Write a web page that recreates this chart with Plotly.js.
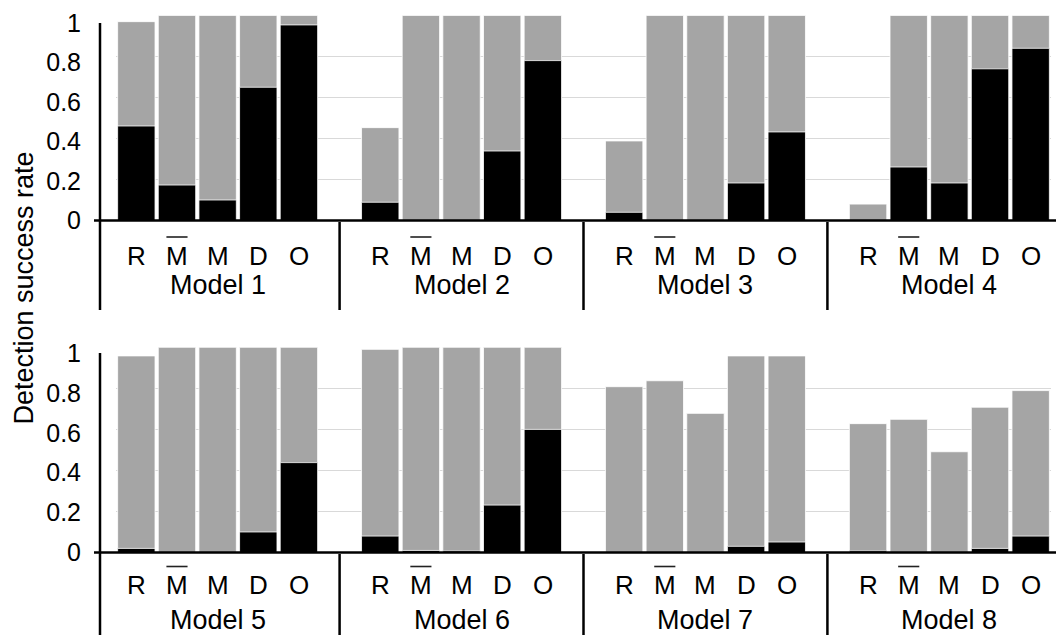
<!DOCTYPE html>
<html>
<head>
<meta charset="utf-8">
<script src="https://cdn.plot.ly/plotly-3.0.1.min.js"></script>
<style>html,body{margin:0;padding:0;background:#fff;}#chart{width:1056px;height:635px;}</style>
</head>
<body>
<div id="chart"></div>
<script>
// ---- data ----
const modelsTop = ['Model 1', 'Model 2', 'Model 3', 'Model 4'];
const modelsBottom = ['Model 5', 'Model 6', 'Model 7', 'Model 8'];
const methodLabels = ['R', 'M', 'M', 'D', 'O'];
const overlined = [false, true, false, false, false];
const yTickVals = [0, 0.2, 0.4, 0.6, 0.8, 1];
const yTickText = ['0', '0.2', '0.4', '0.6', '0.8', '1'];

const totalTop = [0.970, 1, 1, 1, 1, 0.453, 1, 1, 1, 1, 0.388, 1, 1, 1, 1, 0.080, 1, 1, 1, 1];
const blackTop = [0.461, 0.173, 0.100, 0.650, 0.954, 0.089, 0, 0, 0.339, 0.780, 0.040, 0, 0, 0.183, 0.432, 0, 0.261, 0.183, 0.740, 0.840];
const totalBottom = [0.958, 1, 1, 1, 1, 0.990, 1, 1, 1, 1, 0.808, 0.837, 0.678, 0.958, 0.958, 0.628, 0.649, 0.491, 0.708, 0.789];
const blackBottom = [0.020, 0, 0, 0.100, 0.438, 0.080, 0.010, 0.008, 0.231, 0.600, 0, 0, 0, 0.030, 0.051, 0.008, 0, 0, 0.020, 0.080];

// ---- layout helpers ----
const W = 1056, H = 635;
const px = v => v / W;
const py = v => 1 - v / H;
const nPer = methodLabels.length;   // bars per model
const slot = nPer + 1;              // one empty slot between models
const pos = i => Math.floor(i / nPer) * slot + (i % nPer);
const xsTop = totalTop.map((_, i) => pos(i));
const xsBot = totalBottom.map((_, i) => pos(i));

const FONT = 'Liberation Sans, Arial, sans-serif';
const GRAY = '#a5a5a5';
const barW = 0.92;
const edge = {color: '#ffffff', width: 0.8};

const traces = [
  {type: 'bar', x: xsTop, y: totalTop, xaxis: 'x', yaxis: 'y', width: barW,
   marker: {color: GRAY, line: edge}, hoverinfo: 'y', showlegend: false},
  {type: 'bar', x: xsTop, y: blackTop, xaxis: 'x', yaxis: 'y', width: barW,
   marker: {color: '#000', line: edge}, hoverinfo: 'y', showlegend: false},
  {type: 'bar', x: xsBot, y: totalBottom, xaxis: 'x2', yaxis: 'y2', width: barW,
   marker: {color: GRAY, line: edge}, hoverinfo: 'y', showlegend: false},
  {type: 'bar', x: xsBot, y: blackBottom, xaxis: 'x2', yaxis: 'y2', width: barW,
   marker: {color: '#000', line: edge}, hoverinfo: 'y', showlegend: false},
  {type: 'scatter', x: [], y: [], xaxis: 'x', yaxis: 'y3', showlegend: false, hoverinfo: 'skip'},
  {type: 'scatter', x: [], y: [], xaxis: 'x2', yaxis: 'y4', showlegend: false, hoverinfo: 'skip'}
];

const nGroups = modelsTop.length;
const xRange = [-0.5, nGroups * slot - 1.5];
const xDomain = [px(116), px(1051)];

const panels = [
  {xa: 'x', y0: 220.5, y1: 15.5, labelTop: 23, lineTop: 23, lineBot: 310, sepTop: 222, catY: 256, modelY: 285, barY: 237, models: modelsTop},
  {xa: 'x2', y0: 552.5, y1: 347.3, labelTop: 353, lineTop: 353, lineBot: 635, sepTop: 554, catY: 585, modelY: 620, barY: 566.5, models: modelsBottom}
];

const xBase = {domain: xDomain, range: xRange, showticklabels: false, showgrid: false,
  zeroline: false, showline: false, ticks: '', fixedrange: true};
const yBase = {range: [0, 1], tickvals: yTickVals, showticklabels: false, showgrid: true,
  gridcolor: '#d9d9d9', gridwidth: 1, zeroline: false, showline: false, ticks: '', fixedrange: true};

function labelAxis(p, overlay) {
  const frac = (p.y0 - p.labelTop) / (p.y0 - p.y1);
  return {overlaying: overlay, anchor: 'free', position: px(100), side: 'left',
    range: [0, 1 / frac], tickvals: yTickVals, ticktext: yTickText, showgrid: false,
    zeroline: false, showline: false, ticks: '', ticklabelstandoff: 19,
    tickfont: {family: FONT, size: 25, color: '#000'}, fixedrange: true};
}

const shapes = [];
const annotations = [];
panels.forEach((p, k) => {
  const xref = p.xa;
  // horizontal category axis line
  shapes.push({type: 'line', xref: 'paper', yref: 'paper', x0: px(94), x1: 1,
    y0: py(p.y0), y1: py(p.y0), line: {color: '#000', width: 2.5}, layer: 'above'});
  // left vertical line
  shapes.push({type: 'line', xref: 'paper', yref: 'paper', x0: px(100), x1: px(100),
    y0: py(p.lineTop), y1: py(p.lineBot), line: {color: '#000', width: 2.5}, layer: 'above'});
  // separators between model groups
  for (let g = 1; g < p.models.length; g++) {
    const xs = g * slot - 1;
    shapes.push({type: 'line', xref: xref, yref: 'paper', x0: xs, x1: xs,
      y0: py(p.sepTop), y1: py(p.lineBot), line: {color: '#000', width: 2.5}});
  }
  p.models.forEach((m, g) => {
    methodLabels.forEach((lab, j) => {
      const x = g * slot + j;
      annotations.push({xref: xref, yref: 'paper', x: x, y: py(p.catY), text: lab,
        showarrow: false, xanchor: 'center', yanchor: 'middle',
        font: {family: FONT, size: 26, color: '#000'}});
      if (overlined[j]) {
        shapes.push({type: 'line', xref: xref, yref: 'paper', x0: x - 0.26, x1: x + 0.26,
          y0: py(p.barY), y1: py(p.barY), line: {color: '#222', width: 1.6}});
      }
    });
    annotations.push({xref: xref, yref: 'paper', x: g * slot + (nPer - 1) / 2, y: py(p.modelY),
      text: m, showarrow: false, xanchor: 'center', yanchor: 'middle',
      font: {family: FONT, size: 27, color: '#000'}});
  });
});

annotations.push({xref: 'paper', yref: 'paper', x: px(23), y: py(288.5), text: 'Detection success rate',
  textangle: -90, showarrow: false, xanchor: 'center', yanchor: 'middle',
  font: {family: FONT, size: 27, color: '#000'}});

const layout = {
  width: W, height: H,
  margin: {l: 0, r: 0, t: 0, b: 0, pad: 0},
  paper_bgcolor: '#fff', plot_bgcolor: '#fff',
  barmode: 'overlay', bargap: 0,
  showlegend: false,
  xaxis: Object.assign({}, xBase, {anchor: 'y'}),
  xaxis2: Object.assign({}, xBase, {anchor: 'y2'}),
  yaxis: Object.assign({}, yBase, {domain: [py(panels[0].y0), py(panels[0].y1)], anchor: 'x'}),
  yaxis2: Object.assign({}, yBase, {domain: [py(panels[1].y0), py(panels[1].y1)], anchor: 'x2'}),
  yaxis3: labelAxis(panels[0], 'y'),
  yaxis4: labelAxis(panels[1], 'y2'),
  shapes: shapes,
  annotations: annotations
};

Plotly.newPlot('chart', traces, layout, {displayModeBar: false, staticPlot: true});
</script>
</body>
</html>
